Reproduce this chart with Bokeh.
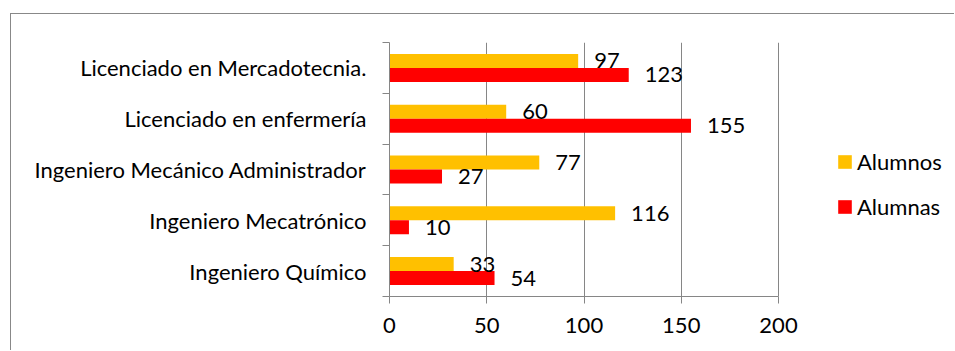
from bokeh.plotting import figure
from bokeh.models import (Range1d, LinearAxis, FixedTicker, ColumnDataSource, Legend, LegendItem, Grid)
from bokeh.transform import dodge
from bokeh.core.properties import value
from bokeh.embed import file_html
from bokeh.resources import INLINE

categories = ["Ingeniero Químico", "Ingeniero Mecatrónico", "Ingeniero Mecánico Administrador",
              "Licenciado en enfermería", "Licenciado en Mercadotecnia."]
alumnos = [33, 116, 77, 60, 97]
alumnas = [54, 10, 27, 155, 123]
x_ticks = [0, 50, 100, 150, 200]
series_names = ["Alumnos", "Alumnas"]
series_colors = ["#FFC000", "#FF0000"]

FONT = "Lato"
FS = "22px"
GRAY = "#868686"

ncat = len(categories)
ypos = [i + 0.5 for i in range(ncat)]
src = ColumnDataSource(dict(y=ypos, alumnos=alumnos, alumnas=alumnas,
                            alumnos_txt=[str(v) for v in alumnos],
                            alumnas_txt=[str(v) for v in alumnas]))

p = figure(width=944, height=337, y_range=Range1d(0, ncat),
           x_range=Range1d(0, 291), output_backend="svg", toolbar_location=None,
           x_axis_location=None, y_axis_location=None,
           min_border_left=378, min_border_right=0, min_border_top=28, min_border_bottom=55)
p.outline_line_color = None
p.center = []
p.margin = (13, 0, 0, 10)
p.styles = {"border-left": "1px solid #888888", "border-top": "1px solid #888888"}

bar_h = 0.276
off = 0.138

grid = Grid(dimension=0, ticker=FixedTicker(ticks=x_ticks), grid_line_color=GRAY, grid_line_width=1)
p.add_layout(grid, "center")

r1 = p.hbar(y=dodge("y", off), left=0, right="alumnos", height=bar_h,
            fill_color=series_colors[0], line_color=None, source=src)
r2 = p.hbar(y=dodge("y", -off), left=0, right="alumnas", height=bar_h,
            fill_color=series_colors[1], line_color=None, source=src)

p.text(x="alumnos", y=dodge("y", off), text="alumnos_txt", x_offset=16,
       text_baseline="middle", text_align="left", text_font=value(FONT), text_font_size=FS,
       text_color="black", source=src)
p.text(x="alumnas", y=dodge("y", -off), text="alumnas_txt", x_offset=16,
       text_baseline="middle", text_align="left", text_font=value(FONT), text_font_size=FS,
       text_color="black", source=src)

cat_ax = LinearAxis(ticker=FixedTicker(ticks=ypos, minor_ticks=list(range(ncat + 1))),
                    major_label_overrides={y: c for y, c in zip(ypos, categories)},
                    major_tick_line_color=None, major_tick_in=0, major_tick_out=0,
                    minor_tick_in=0, minor_tick_out=7, minor_tick_line_color=GRAY,
                    axis_line_color=GRAY,
                    major_label_text_font=FONT, major_label_text_font_size=FS,
                    major_label_text_color="black", major_label_standoff=16)
p.add_layout(cat_ax, "left")

x_ax = LinearAxis(ticker=FixedTicker(ticks=x_ticks), bounds=(0, 200),
                  axis_line_color=GRAY, major_tick_line_color=GRAY, minor_tick_line_color=None,
                  major_tick_in=0, major_tick_out=7,
                  major_label_text_font=FONT, major_label_text_font_size=FS,
                  major_label_text_color="black", major_label_standoff=14)
p.add_layout(x_ax, "below")

legend = Legend(items=[LegendItem(label=series_names[0], renderers=[r1]),
                       LegendItem(label=series_names[1], renderers=[r2])],
                location=(447, 76), padding=0, margin=0, border_line_color=None,
                background_fill_alpha=0, glyph_width=17, glyph_height=17, label_height=20,
                label_standoff=4, spacing=18, label_text_font=FONT, label_text_font_size=FS,
                label_text_color="black")
p.add_layout(legend, "center")

open("out.html", "w").write(file_html(p, INLINE))
